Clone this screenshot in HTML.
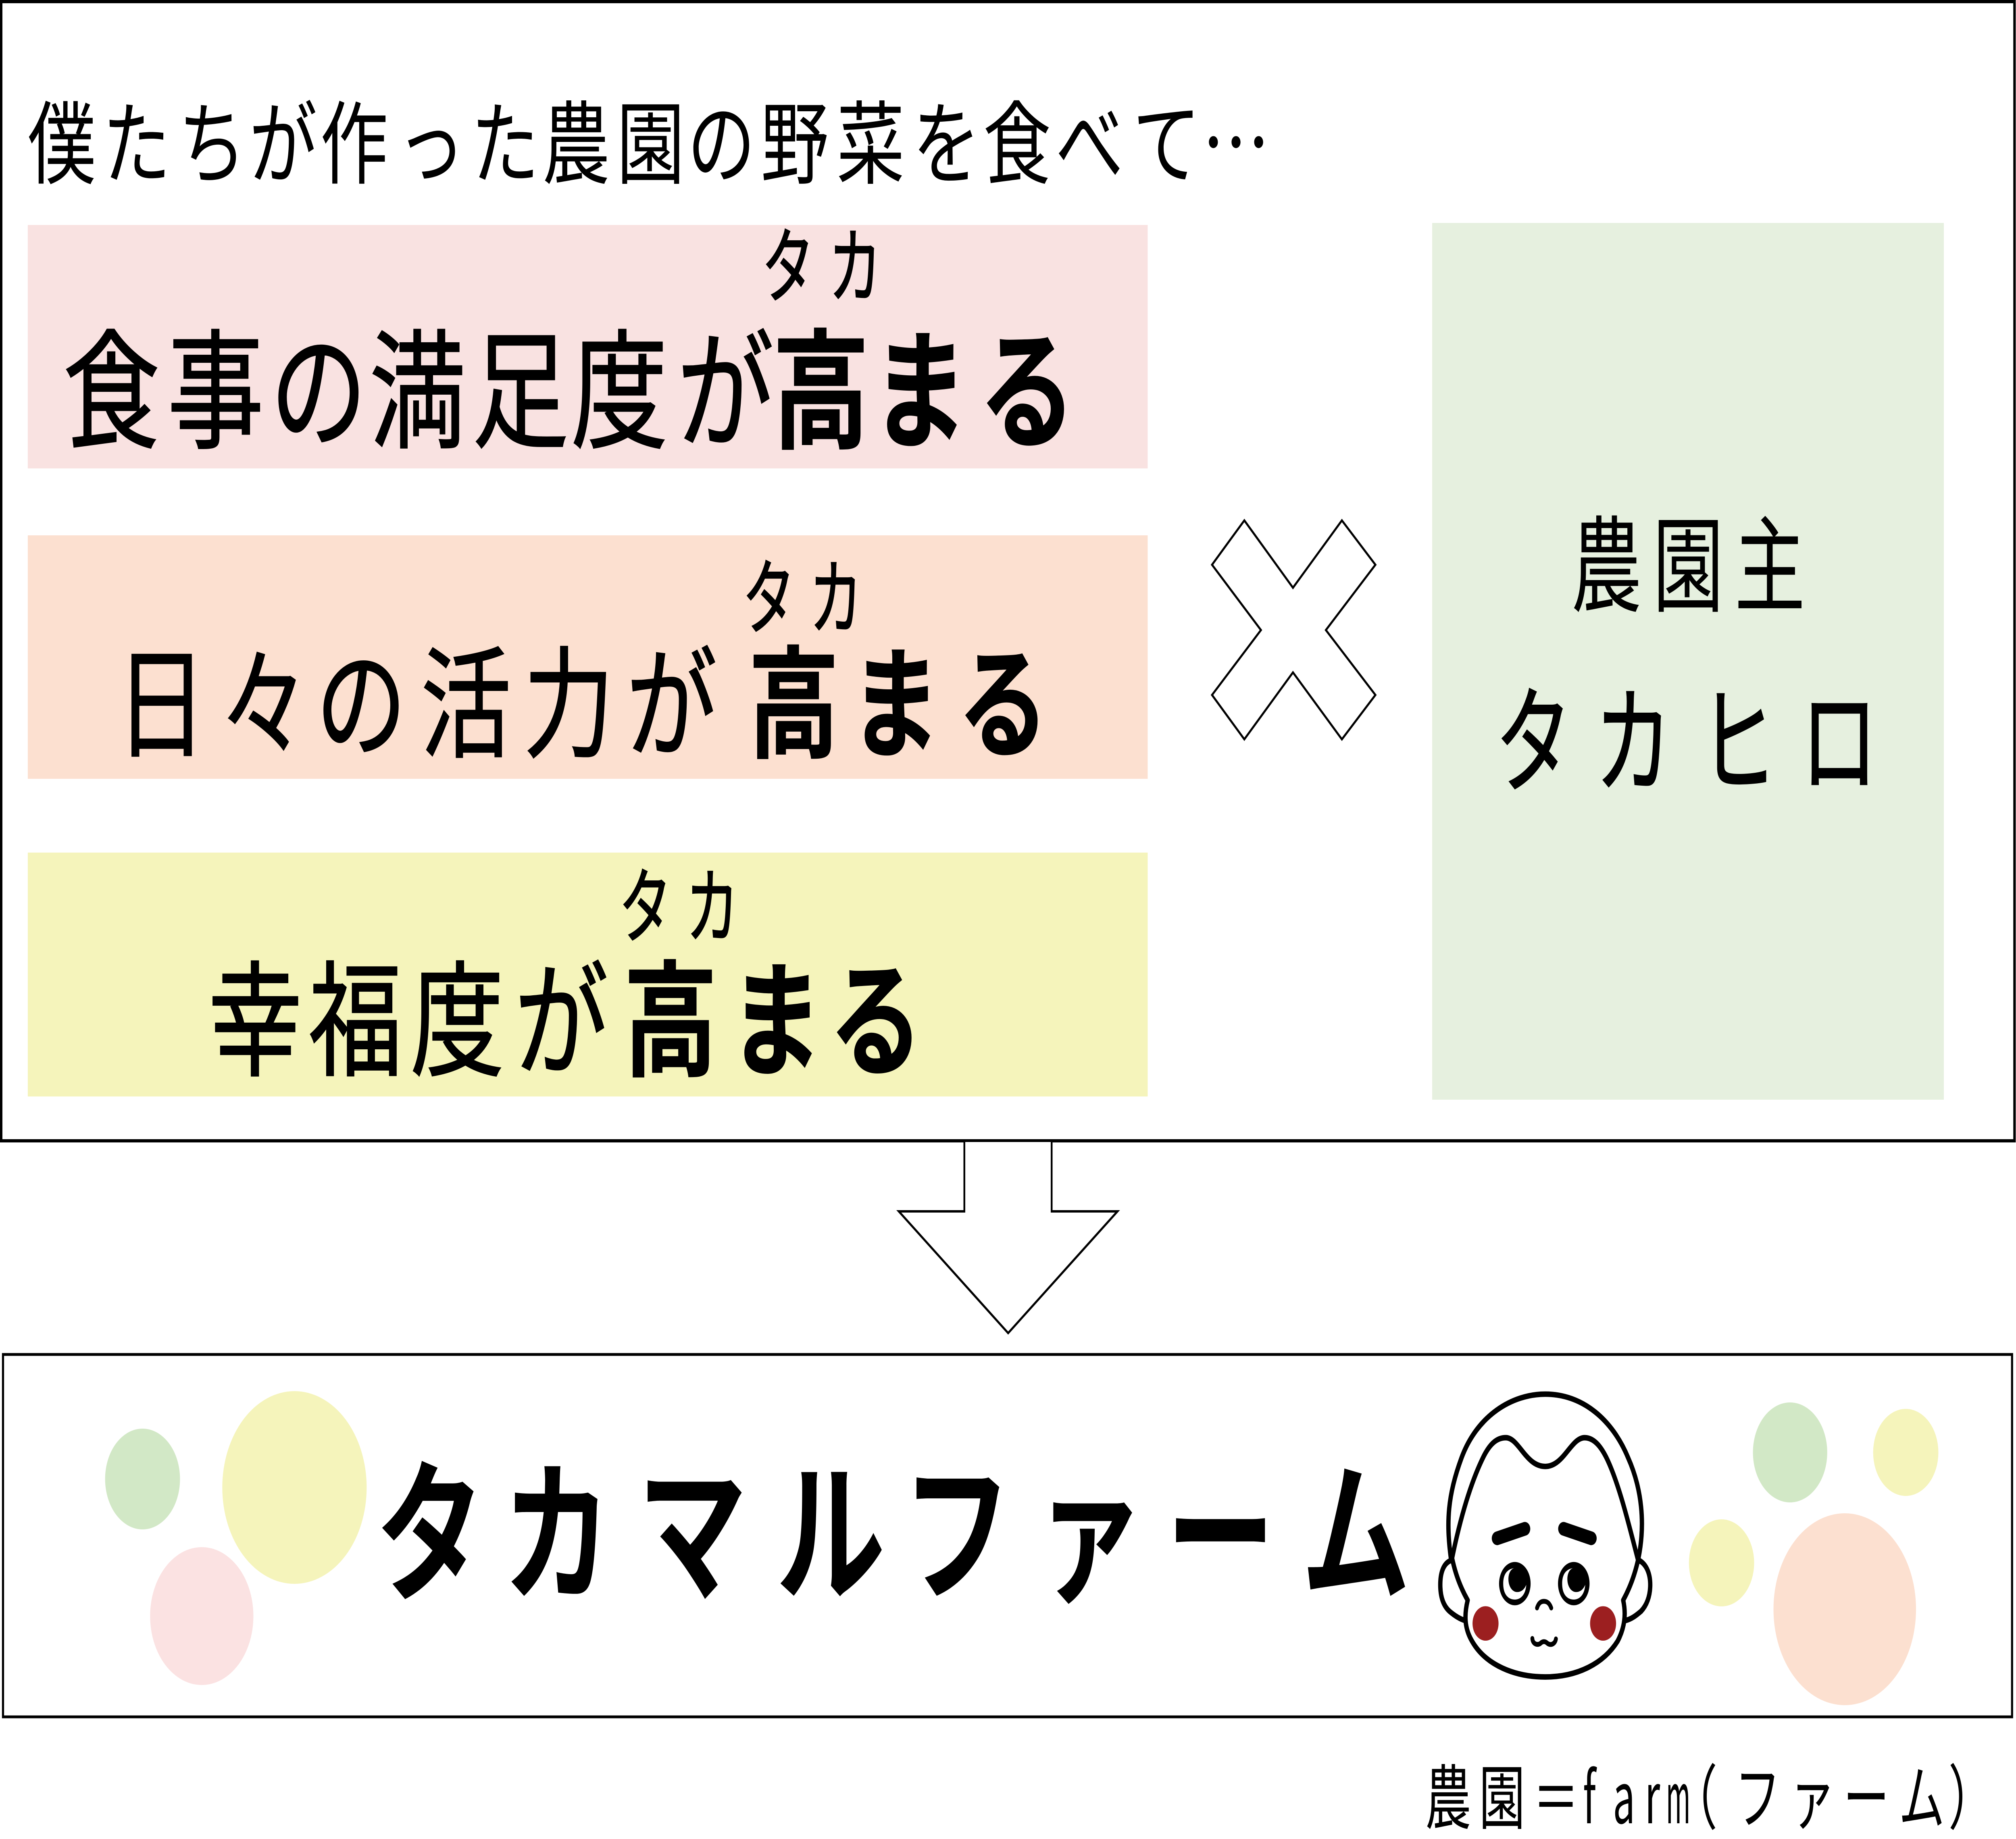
<!DOCTYPE html>
<html lang="ja"><head><meta charset="utf-8"><title>タカマルファーム</title>
<style>
html,body{margin:0;padding:0;background:#fff;width:100%;height:100%;overflow:hidden}
svg{display:block;width:100vw;height:100vh}
text{font-family:"Liberation Sans","Noto Sans CJK JP",sans-serif;fill:#000}
.t{font-family:"Noto Sans CJK JP",sans-serif}
.r{stroke:#000;stroke-width:3px}
.b{font-weight:700;stroke-width:2px}
</style></head><body>
<svg xmlns="http://www.w3.org/2000/svg" viewBox="0 0 6675 4562" preserveAspectRatio="none">
<rect width="6675" height="4562" fill="#fff"/>
<rect x="4" y="4" width="6666" height="2826" fill="#fff" stroke="#000" stroke-width="8"/>
<rect x="92" y="558" width="3708" height="604" fill="#f9e2e1"/>
<rect x="92" y="1328" width="3708" height="604" fill="#fce0d0"/>
<rect x="92" y="2115" width="3708" height="605" fill="#f5f4bb"/>
<rect x="4742" y="553" width="1694" height="2175" fill="#e6f0df"/>
<polygon points="4120,1291 4281,1458 4443,1291 4554,1401 4390,1563 4554,1724 4443,1834 4281,1668 4120,1834 4013,1724 4175,1563 4013,1401" fill="#fff" stroke="#000" stroke-width="6"/>
<polygon points="3193,2830 3193,3005 2976,3005 3338,3307 3700,3005 3482,3005 3482,2830" fill="#fff" stroke="#000" stroke-width="6"/>
<rect x="10" y="3360" width="6652" height="899" fill="#fff" stroke="#000" stroke-width="7"/>
<ellipse cx="472" cy="3669" rx="124" ry="125" fill="#d2e8c6"/>
<ellipse cx="975" cy="3690" rx="239" ry="239" fill="#f5f4bb"/>
<ellipse cx="668" cy="4009" rx="171" ry="171" fill="#fbe2e2"/>
<ellipse cx="5927" cy="3603" rx="123" ry="124" fill="#d2e8c6"/>
<ellipse cx="6310" cy="3603" rx="108" ry="108" fill="#f5f4bb"/>
<ellipse cx="5700" cy="3877" rx="108" ry="108" fill="#f5f4bb"/>
<ellipse cx="6108" cy="3992" rx="236" ry="238" fill="#fce0d0"/>
<g transform="translate(4650,3380) scale(.574,.5485)" fill="none" stroke="#000" stroke-width="25" stroke-linecap="round" stroke-linejoin="round">
<path d="M268,885 C240,720 250,600 330,430 C420,240 620,143 812,143 C1030,143 1200,260 1290,430 C1370,570 1390,730 1350,885"/>
<path d="M275,885 C310,750 370,560 460,420 C500,360 540,340 585,340 C660,340 700,470 812,470 C920,470 960,340 1040,340 C1090,340 1130,375 1165,430 C1240,550 1300,750 1350,900"/>
<path d="M275,885 C295,960 325,1020 365,1075 C345,1140 345,1200 390,1260 C470,1370 640,1422 812,1422 C1000,1422 1150,1360 1230,1260 C1270,1200 1280,1140 1262,1075 C1300,1020 1330,960 1350,885"/>
<path d="M268,895 C220,910 207,960 207,1005 C207,1060 225,1100 260,1125 C290,1145 320,1160 350,1167"/>
<path d="M1355,895 C1400,915 1418,960 1418,1005 C1418,1060 1395,1100 1365,1125 C1335,1145 1310,1160 1275,1167"/>
<path d="M535,795 L695,752 M918,752 L1078,795" stroke-width="62"/>
<ellipse cx="637" cy="1000" rx="79" ry="86" fill="#000" stroke-width="24"/>
<ellipse cx="977" cy="1000" rx="79" ry="86" fill="#000" stroke-width="24"/>
<path d="M632,930 C590,935 570,960 570,1000 C570,1050 600,1072 637,1072 C675,1072 700,1045 703,1005 C690,1030 670,1038 650,1038 C620,1038 600,1010 600,980 C600,955 612,935 632,930 Z" fill="#fff" stroke="none"/>
<path d="M972,930 C930,935 910,960 910,1000 C910,1050 940,1072 977,1072 C1015,1072 1040,1045 1043,1005 C1030,1030 1010,1038 990,1038 C960,1038 940,1010 940,980 C940,955 952,935 972,930 Z" fill="#fff" stroke="none"/>
<path d="M765,1110 C775,1085 790,1080 805,1080 C825,1080 838,1090 847,1110" stroke-width="22"/>
<path d="M738,1248 C740,1275 770,1280 785,1270 C800,1258 815,1262 825,1270 C845,1282 870,1272 874,1250" stroke-width="22"/>
<ellipse cx="468" cy="1180" rx="75" ry="78" fill="#9c1f20" stroke="none"/>
<ellipse cx="1146" cy="1180" rx="75" ry="78" fill="#9c1f20" stroke="none"/>
</g>
<text class="t" font-size="225" y="438" x="92 340 590 825 1060 1315 1560 1795 2042 2276 2519 2770 3021 3255 3495 3750 3980">僕たちが作った農園の野菜を食べて…</text>
<g transform="scale(.85,1)">
<text class="t" font-size="205" stroke="#000" stroke-width="3" y="735" x="2967 3228">タカ</text>
<text class="t" font-size="205" stroke="#000" stroke-width="3" y="1557" x="2892 3153">タカ</text>
<text class="t" font-size="205" stroke="#000" stroke-width="3" y="2323" x="2411 2672">タカ</text>
</g>
<text class="t r" font-size="320" y="1086" x="209 554 895 1223 1563 1891 2242 2558 2886 3241">食事の満足度が<tspan class="b">高まる</tspan></text>
<text class="t r" font-size="300" y="1855" x="384 726 1046 1393 1733 2074 2478 2815 3171">日々の活力が<tspan class="b">高まる</tspan></text>
<text class="t r" font-size="310" y="2644" x="690 1022 1359 1704 2065 2415 2745">幸福度が<tspan class="b">高まる</tspan></text>
<text class="t" font-size="260" transform="scale(.9,1)" y="1497" x="5780 6081 6381">農園主</text>
<text class="t r" font-size="290" transform="scale(.88,1)" y="1944" x="5625 6000 6395 6775">タカヒロ</text>
<text class="t" font-size="380" font-weight="700" transform="scale(.95,1)" y="3942" x="1309 1751 2223 2705 3145 3608 4064 4535">タカマルファーム</text>
<text class="t" font-size="175" transform="scale(.87,1)" y="4523" x="5424 5629 5834">農園＝</text>
<text class="t" font-size="175" transform="scale(.75,1)" y="4523" x="6988 7120 7261">far</text>
<text class="t" font-size="175" transform="scale(.5,1)" y="4523" x="11032">m</text>
<text class="t" font-size="175" transform="scale(.87,1)" y="4523" x="6361 6602 6810 7015 7226 7415">（ファーム）</text>
</svg>
</body></html>
